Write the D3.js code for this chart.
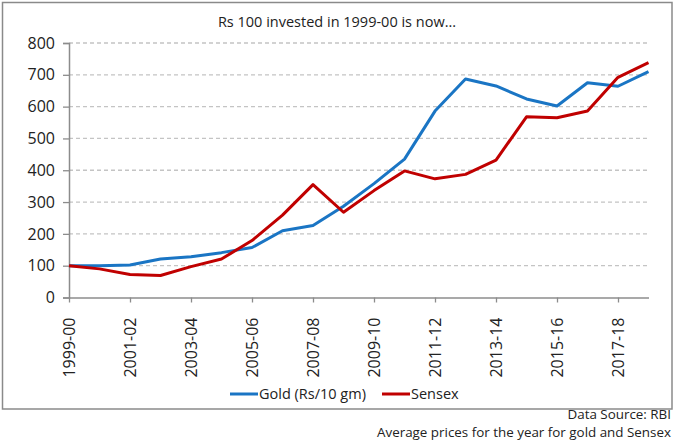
<!DOCTYPE html>
<html><head><meta charset="utf-8">
<script src="https://cdn.jsdelivr.net/npm/d3@7"></script>
<style>body{margin:0;background:#fff}svg{display:block;font-family:"Open Sans",sans-serif}</style>
</head><body><svg id="c" width="675" height="442"></svg>
<script>
const years = ["1999-00","2000-01","2001-02","2002-03","2003-04","2004-05","2005-06","2006-07","2007-08","2008-09","2009-10","2010-11","2011-12","2012-13","2013-14","2014-15","2015-16","2016-17","2017-18","2018-19"];
const gold   = [100,100,102,121,128,141,157,210,226,287,358,435,586,687,665,624,602,675,664,710];
const sensex = [100,90,72,69,97,121,179,259,355,268,336,398,373,387,432,568,565,586,692,738];
const yTicks = [0,100,200,300,400,500,600,700,800];
const xTickLabels = years.filter((d,i)=>i%2===0);
const sourceLines = ["Data Source: RBI","Average prices for the year for gold and Sensex"];

const svg = d3.select("#c");
const M = {l:69, r:648.5, t:43, b:297.5};
const x = d3.scalePoint().domain(years).range([M.l, M.r]).padding(0);
const y = d3.scaleLinear().domain([0,800]).range([M.b, M.t]);

svg.append("rect").attr("x",2.5).attr("y",2.5).attr("width",669.5).attr("height",406.5)
  .attr("fill","none").attr("stroke","#8a8a8a").attr("stroke-width",1.5);

svg.append("text").attr("x",337).attr("y",27).attr("text-anchor","middle")
  .attr("font-size",14.5).attr("fill","#222").text("Rs 100 invested in 1999-00 is now...");

// grid
svg.append("g").selectAll("line").data(yTicks.filter(d=>d>0)).join("line")
  .attr("x1",M.l).attr("x2",M.r).attr("y1",d=>y(d)).attr("y2",d=>y(d))
  .attr("stroke","#c4c4c4").attr("stroke-width",1.3).attr("stroke-dasharray","4,3");

// y axis
const ya = svg.append("g").attr("transform",`translate(${M.l},0)`)
  .call(d3.axisLeft(y).tickValues(yTicks).tickSize(6).tickPadding(8));
ya.select(".domain").attr("stroke","#8c8c8c").attr("stroke-width",1.5);
ya.selectAll(".tick line").attr("stroke","#8c8c8c").attr("stroke-width",1.3);
ya.selectAll("text").attr("font-size",16).attr("fill","#222").attr("font-family","Open Sans");

// x axis
const xa = svg.append("g").attr("transform",`translate(0,${M.b})`)
  .call(d3.axisBottom(x).tickValues(xTickLabels).tickSize(5).tickSizeOuter(0).tickPadding(0));
xa.select(".domain").attr("stroke","#8c8c8c").attr("stroke-width",1.5);
xa.selectAll(".tick line").attr("stroke","#8c8c8c").attr("stroke-width",1.3);
xa.selectAll("text").attr("font-size",16).attr("fill","#222").attr("font-family","Open Sans")
  .attr("transform","rotate(-90)").attr("text-anchor","end").attr("dy","0.35em").attr("x",-20).attr("y",0);

const line = d3.line().x((d,i)=>x(years[i])).y(d=>y(d));
svg.append("path").datum(gold).attr("d",line).attr("fill","none").attr("stroke","#1a75c4").attr("stroke-width",3).attr("stroke-linejoin","round");
svg.append("path").datum(sensex).attr("d",line).attr("fill","none").attr("stroke","#c00000").attr("stroke-width",3).attr("stroke-linejoin","round");

// legend
const legend = [{name:"Gold (Rs/10 gm)", color:"#1a75c4", x:230},{name:"Sensex", color:"#c00000", x:382}];
const lg = svg.append("g").selectAll("g").data(legend).join("g").attr("transform",d=>`translate(${d.x},394)`);
lg.append("line").attr("x1",0).attr("x2",28).attr("stroke",d=>d.color).attr("stroke-width",3);
lg.append("text").attr("x",29).attr("dy","0.35em").attr("font-size",14.5).attr("fill","#222").text(d=>d.name);

// source
svg.append("g").selectAll("text").data(sourceLines).join("text")
  .attr("text-anchor","end").attr("font-size",13.4).attr("fill","#222")
  .attr("x",671).attr("y",(d,i)=>i===0?418.5:437.2).text(d=>d);
</script></body></html>
